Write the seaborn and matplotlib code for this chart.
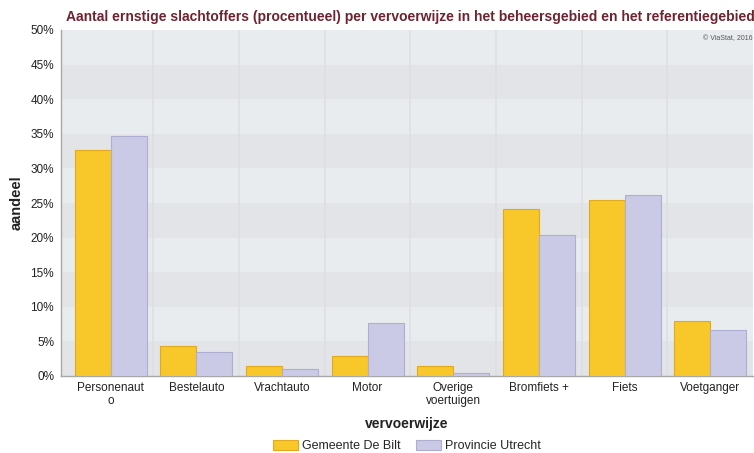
import matplotlib
matplotlib.use("Agg")
import matplotlib.pyplot as plt
from matplotlib.ticker import PercentFormatter
import seaborn as sns
import pandas as pd

# Share of serious casualties (%) per mode of transport
categories = ["Personenaut\no", "Bestelauto", "Vrachtauto", "Motor",
              "Overige\nvoertuigen", "Bromfiets +", "Fiets", "Voetganger"]
series_names = ["Gemeente De Bilt", "Provincie Utrecht"]
de_bilt = [32.7, 4.3, 1.5, 2.9, 1.4, 24.1, 25.4, 7.9]
utrecht = [34.7, 3.5, 1.0, 7.6, 0.4, 20.4, 26.1, 6.6]

df = pd.DataFrame({
    "vervoerwijze": categories * 2,
    "aandeel": de_bilt + utrecht,
    "gebied": [series_names[0]] * len(categories) + [series_names[1]] * len(categories),
})

sns.set_theme(style="white")
plt.rcParams["font.family"] = ["Liberation Sans", "DejaVu Sans"]

fills = {series_names[0]: "#F8C82A", series_names[1]: "#CBCAE6"}
edges = {series_names[0]: "#E2A91A", series_names[1]: "#AEADD2"}

fig = plt.figure(figsize=(7.54, 4.53), dpi=100)
fig.patch.set_facecolor("white")
ax = fig.add_axes([61 / 754, 77 / 453, 692 / 754, 346 / 453])

sns.barplot(data=df, x="vervoerwijze", y="aandeel", hue="gebied",
            palette=fills, width=0.84, saturation=1, ax=ax, legend=False,
            zorder=3)
for cont, name in zip(ax.containers, series_names):
    for bar in cont:
        bar.set_edgecolor(edges[name])
        bar.set_linewidth(0.8)

# Alternating horizontal bands behind the bars
ax.set_facecolor("#E9ECEF")
for i in range(10):
    if i % 2 == 0:
        ax.axhspan(i * 5, i * 5 + 5, color="#E2E4E7", zorder=0, lw=0)
for k in range(len(categories) - 1):
    ax.axvline(k + 0.5, color="#DDDFE3", lw=1.2, zorder=1)

ax.set_ylim(0, 50)
ax.set_xlim(-0.58, len(categories) - 0.5)
ax.set_yticks(range(0, 51, 5))
ax.yaxis.set_major_formatter(PercentFormatter(decimals=0))
ax.tick_params(axis="both", labelsize=8.5, colors="#222222", length=0, pad=5)
ax.tick_params(axis="x", pad=4)

for side in ["top", "right"]:
    ax.spines[side].set_visible(False)
ax.spines["left"].set_color("#A8A8A8")
ax.spines["bottom"].set_color("#A8A8A8")
ax.spines["left"].set_linewidth(1)
ax.spines["bottom"].set_linewidth(1)

ax.set_xlabel("vervoerwijze", fontsize=10, fontweight="bold", color="#222222", labelpad=7)
ax.set_ylabel("aandeel", fontsize=10.5, fontweight="bold", color="#222222", labelpad=5)

fig.text(410 / 754, 1 - 17 / 453,
         "Aantal ernstige slachtoffers (procentueel) per vervoerwijze in het beheersgebied en het referentiegebied",
         ha="center", va="center", fontsize=10, fontweight="bold", color="#6E2430",
         family=["Liberation Sans Narrow", "Liberation Sans", "DejaVu Sans"])
ax.text(0.999, 0.985, "© ViaStat, 2016", transform=ax.transAxes, ha="right", va="top",
        fontsize=5, color="#555555", zorder=5)

handles = [plt.Rectangle((0, 0), 1, 1, facecolor=fills[n], edgecolor=edges[n], lw=0.8)
           for n in series_names]
fig.legend(handles, series_names, loc="center", bbox_to_anchor=(407 / 754, 1 - 446 / 453),
           ncol=2, frameon=False, fontsize=9, handlelength=2.0, handleheight=0.8,
           columnspacing=1.2, handletextpad=0.35)

fig.savefig("out.png", dpi=100)
